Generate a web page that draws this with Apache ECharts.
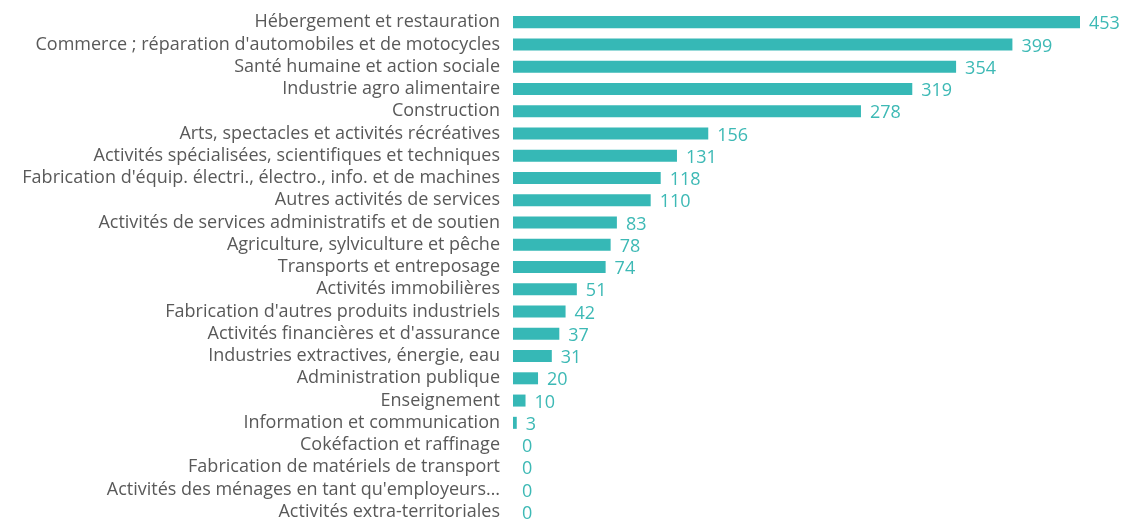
<!DOCTYPE html>
<html>
<head>
<meta charset="utf-8">
<script src="https://cdn.jsdelivr.net/npm/echarts@6/dist/echarts.min.js"></script>
<style>
  html, body { margin: 0; padding: 0; background: #fff; }
  #main { width: 1122px; height: 523px; }
</style>
</head>
<body>
<div id="main"></div>
<script>
var secteurs = [
  'Hébergement et restauration',
  "Commerce ; réparation d'automobiles et de motocycles",
  'Santé humaine et action sociale',
  'Industrie agro alimentaire',
  'Construction',
  'Arts, spectacles et activités récréatives',
  'Activités spécialisées, scientifiques et techniques',
  "Fabrication d'équip. électri., électro., info. et de machines",
  'Autres activités de services',
  'Activités de services administratifs et de soutien',
  'Agriculture, sylviculture et pêche',
  'Transports et entreposage',
  'Activités immobilières',
  "Fabrication d'autres produits industriels",
  "Activités financières et d'assurance",
  'Industries extractives, énergie, eau',
  'Administration publique',
  'Enseignement',
  'Information et communication',
  'Cokéfaction et raffinage',
  'Fabrication de matériels de transport',
  "Activités des ménages en tant qu'employeurs…",
  'Activités extra-territoriales'
];
var valeurs = [453, 399, 354, 319, 278, 156, 131, 118, 110, 83, 78, 74, 51, 42, 37, 31, 20, 10, 3, 0, 0, 0, 0];

var chart = echarts.init(document.getElementById('main'));
var option = {
  animation: false,
  grid: { left: 513, top: 11, width: 567, height: 516 },
  xAxis: {
    type: 'value', min: 0, max: 453, show: false
  },
  yAxis: {
    type: 'category', inverse: true, data: secteurs,
    axisLine: { show: false }, axisTick: { show: false },
    axisLabel: {
      interval: 0, margin: 13, color: '#595959', fontSize: 18,
      fontFamily: '"Open Sans", sans-serif'
    }
  },
  series: [{
    type: 'bar', data: valeurs, barCategoryGap: '46%',
    itemStyle: { color: '#36B8B6' },
    label: {
      show: true, position: 'right', distance: 9, offset: [0, 2],
      color: '#3DB9B5', fontSize: 18,
      fontFamily: '"Open Sans", sans-serif'
    }
  }]
};
chart.setOption(option);
</script>
</body>
</html>
